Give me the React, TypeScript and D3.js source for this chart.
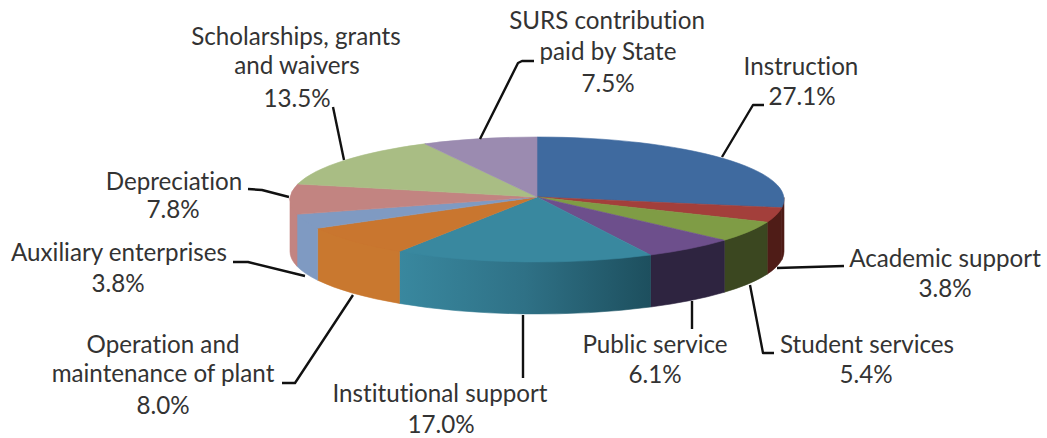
import React from "react";
import * as d3 from "d3";

const categories = [
  "Instruction",
  "Academic support",
  "Student services",
  "Public service",
  "Institutional support",
  "Operation and maintenance of plant",
  "Auxiliary enterprises",
  "Depreciation",
  "Scholarships, grants and waivers",
  "SURS contribution paid by State",
];
const shares = [27.1, 3.8, 5.4, 6.1, 17.0, 8.0, 3.8, 7.8, 13.5, 7.5];

const topColors = ["#3f6a9f", "#a33f3b", "#7f9c45", "#6d4f8c", "#39889f", "#c9762f", "#7f9ac2", "#c28481", "#a9bd84", "#9b8bb0"];
const wallColors = ["#4f1c17", "#4f1c17", "#3b4720", "#2e2440", "url(#tealWall)", "#c9782f", "#7f9ac2", "#c28481", "#6f8050", "#665a78"];

// Label text lines, one entry per slice; the percentage is appended as the last line.
const labelLines = [
  ["Instruction"],
  ["Academic support"],
  ["Student services"],
  ["Public service"],
  ["Institutional support"],
  ["Operation and", "maintenance of plant"],
  ["Auxiliary enterprises"],
  ["Depreciation"],
  ["Scholarships, grants", "and waivers"],
  ["SURS contribution", "paid by State"],
];

// Centre x and baseline y of each line in a label block.
const labelAnchors: [number, number][][] = [
  [[801, 75], [802, 105]],
  [[945, 267], [945, 297]],
  [[867, 353], [866, 383]],
  [[655, 353], [655, 383]],
  [[440, 402], [441, 433]],
  [[163, 353], [163, 382], [163, 414]],
  [[119, 261], [118, 292]],
  [[174, 190], [173, 218]],
  [[296, 45], [297, 74], [297, 107]],
  [[607, 29], [608, 60], [608, 92]],
];

const leaderPaths: [number, number][][] = [
  [[722, 157], [753, 105], [764, 105]],
  [[777, 268], [844, 266]],
  [[750, 285], [763, 353], [774, 353]],
  [[692, 301], [692, 329]],
  [[523, 315], [523, 378]],
  [[353, 295], [295, 383], [282, 383]],
  [[305, 276], [248, 262], [233, 262]],
  [[289, 197], [262, 190], [248, 189]],
  [[344, 160], [333, 107]],
  [[480, 139], [518, 63], [522, 61], [534, 61]],
];

const WIDTH = 1047;
const HEIGHT = 438;
const cx = 537;
const cy = 199.5;
const rx = 247;
const ry = 62.5;
const apexY = 197;
const depth = 52;

const rim = (theta: number, dy = 0): [number, number] => [cx + rx * Math.sin(theta), cy + dy - ry * Math.cos(theta)];

const pieLayout = d3.pie<number>().sort(null).value((d) => d);
const slices = pieLayout(shares);
const leaderLine = d3.line();

function topPath(a: number, b: number) {
  const [x0, y0] = rim(a);
  const [x1, y1] = rim(b);
  const large = b - a > Math.PI ? 1 : 0;
  return `M${cx},${apexY}L${x0},${y0}A${rx},${ry} 0 ${large} 1 ${x1},${y1}Z`;
}

// Walls start a little above the rim so the top face covers the join without a seam.
function wallPath(a: number, b: number) {
  const from = Math.max(a, Math.PI / 2);
  const to = Math.min(b, (3 * Math.PI) / 2);
  if (to <= from) return null;
  const [x0, y0] = rim(from, -2);
  const [x1, y1] = rim(to, -2);
  const [x2, y2] = rim(to, depth);
  const [x3, y3] = rim(from, depth);
  return `M${x0},${y0}A${rx},${ry} 0 0 1 ${x1},${y1}L${x2},${y2}A${rx},${ry} 0 0 0 ${x3},${y3}Z`;
}

export default function App() {
  return (
    <svg
      width={WIDTH}
      height={HEIGHT}
      viewBox={`0 0 ${WIDTH} ${HEIGHT}`}
      style={{ position: "absolute", left: 0, top: 0, background: "#fff" }}
    >
      <defs>
        <linearGradient id="tealWall" gradientUnits="userSpaceOnUse" x1={398} x2={651} y1={0} y2={0}>
          <stop offset="0" stopColor="#39889f" />
          <stop offset="0.5" stopColor="#2f7186" />
          <stop offset="1" stopColor="#1d4f5e" />
        </linearGradient>
      </defs>

      <g strokeWidth={0.6}>
        {slices.map((s, i) => {
          const d = wallPath(s.startAngle, s.endAngle);
          return d ? <path key={categories[i]} d={d} fill={wallColors[i]} stroke={wallColors[i]} /> : null;
        })}
      </g>
      <g strokeWidth={0.6}>
        {slices.map((s, i) => (
          <path key={categories[i]} d={topPath(s.startAngle, s.endAngle)} fill={topColors[i]} stroke={topColors[i]} />
        ))}
      </g>
      <g fill="none" stroke="#111" strokeWidth={2.4} strokeLinejoin="round">
        {leaderPaths.map((pts, i) => (
          <path key={categories[i]} d={leaderLine(pts) ?? undefined} />
        ))}
      </g>
      <g fontFamily="Lato" fontSize={24.2} fill="#333" textAnchor="middle" style={{ fontVariantLigatures: "none" }}>
        {shares.map((v, i) => {
          const lines = [...labelLines[i], `${v.toFixed(1)}%`];
          return (
            <text key={categories[i]}>
              {lines.map((line, j) => (
                <tspan key={j} x={labelAnchors[i][j][0]} y={labelAnchors[i][j][1]}>
                  {line}
                </tspan>
              ))}
            </text>
          );
        })}
      </g>
    </svg>
  );
}
